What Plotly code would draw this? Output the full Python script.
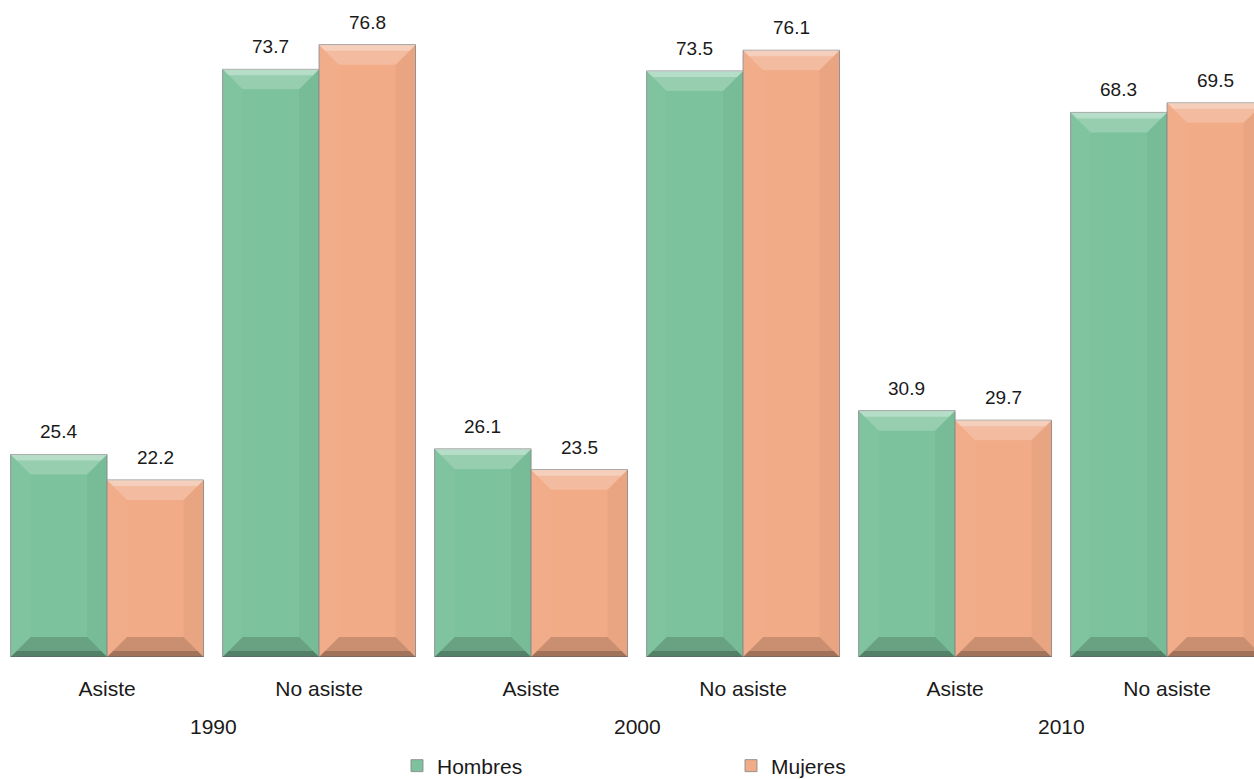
import plotly.graph_objects as go

# ---- data ----
categories = ["Asiste", "No asiste", "Asiste", "No asiste", "Asiste", "No asiste"]
years = ["1990", "2000", "2010"]
hombres = [25.4, 73.7, 26.1, 73.5, 30.9, 68.3]
mujeres = [22.2, 76.8, 23.5, 76.1, 29.7, 69.5]

# ---- style / layout ----
W_FIG, H_FIG = 1254, 779
M_L, M_R, M_T, M_B = 0, 0, 0, 122
X_RANGE = [-0.505, 5.41]
Y_RANGE = [0, 82.4]
BAR_W = 0.455
GREEN = "#7CC29C"
ORANGE = "#F1AB87"
FONT = "Liberation Sans, Arial, sans-serif"
TXT = "#1a1a1a"

xs = list(range(len(categories)))

fig = go.Figure()
fig.add_trace(go.Bar(name="Hombres", x=xs, y=hombres, width=BAR_W, offset=-BAR_W,
                     marker=dict(color=GREEN, line=dict(color="rgba(140,140,140,0.9)", width=1))))
fig.add_trace(go.Bar(name="Mujeres", x=xs, y=mujeres, width=BAR_W, offset=0,
                     marker=dict(color=ORANGE, line=dict(color="rgba(140,140,140,0.9)", width=1))))

# pixel scale for bevel decoration
plot_w = W_FIG - M_L - M_R
plot_h = H_FIG - M_T - M_B
ppu = plot_w / (X_RANGE[1] - X_RANGE[0])
ppy = plot_h / (Y_RANGE[1] - Y_RANGE[0])
Wp = BAR_W * ppu
b = 20
s = 6

def bevel(left, v):
    Hp = v * ppy
    shp = []
    def add(path, fill, yanchor):
        shp.append(dict(type="path", xref="x", yref="y", xsizemode="pixel", ysizemode="pixel",
                        xanchor=left, yanchor=yanchor, path=path, fillcolor=fill,
                        line=dict(width=0), layer="above"))
    # top bevel
    add(f"M0,0 L{Wp:.1f},0 L{Wp-b:.1f},{-b} L{b},{-b} Z", "rgba(255,255,255,0.2)", v)
    add(f"M0,0 L{Wp:.1f},0 L{Wp-s:.1f},{-s} L{s},{-s} Z", "rgba(255,255,255,0.3)", v)
    # bottom bevel
    add(f"M0,0 L{Wp:.1f},0 L{Wp-b:.1f},{b} L{b},{b} Z", "rgba(0,0,0,0.16)", 0)
    add(f"M0,0 L{Wp:.1f},0 L{Wp-s:.1f},{s} L{s},{s} Z", "rgba(0,0,0,0.2)", 0)
    # sides (subtle)
    add(f"M0,0 L{b},{b} L{b},{Hp-b:.1f} L0,{Hp:.1f} Z", "rgba(255,255,255,0.03)", 0)
    add(f"M{Wp:.1f},0 L{Wp:.1f},{Hp:.1f} L{Wp-b:.1f},{Hp-b:.1f} L{Wp-b:.1f},{b} Z", "rgba(0,0,0,0.03)", 0)
    return shp

shapes = []
annotations = []
for i in xs:
    shapes += bevel(i - BAR_W, hombres[i])
    shapes += bevel(i, mujeres[i])
    annotations.append(dict(x=i - BAR_W / 2, y=hombres[i], text=f"{hombres[i]:.1f}", showarrow=False,
                            yanchor="bottom", yshift=10, font=dict(size=19, color=TXT, family=FONT)))
    annotations.append(dict(x=i + BAR_W / 2, y=mujeres[i], text=f"{mujeres[i]:.1f}", showarrow=False,
                            yanchor="bottom", yshift=10, font=dict(size=19, color=TXT, family=FONT)))

for k, yr in enumerate(years):
    annotations.append(dict(x=2 * k + 0.5, xref="x", y=0, yref="paper", text=yr, showarrow=False,
                            yanchor="middle", yshift=-69, font=dict(size=21, color=TXT, family=FONT)))

fig.update_layout(
    width=W_FIG, height=H_FIG,
    margin=dict(l=M_L, r=M_R, t=M_T, b=M_B, autoexpand=False),
    paper_bgcolor="white", plot_bgcolor="white",
    barmode="overlay",
    font=dict(family=FONT, size=21, color=TXT),
    xaxis=dict(range=X_RANGE, tickmode="array", tickvals=xs, ticktext=categories,
               showgrid=False, zeroline=False, showline=False, ticks="",
               ticklabelstandoff=17, tickfont=dict(size=21, color=TXT)),
    yaxis=dict(range=Y_RANGE, visible=False),
    legend=dict(orientation="h", x=397 / W_FIG, xanchor="left",
                yref="container", y=1 - 766 / H_FIG, yanchor="middle",
                entrywidth=289, entrywidthmode="pixels", font=dict(size=21, color=TXT),
                bgcolor="rgba(0,0,0,0)"),
    shapes=shapes,
    annotations=annotations,
    showlegend=True,
)

fig.write_html(
    "out.html",
    config={"displayModeBar": False},
    post_script="document.body.style.margin='0';document.body.style.overflow='hidden';",
)
